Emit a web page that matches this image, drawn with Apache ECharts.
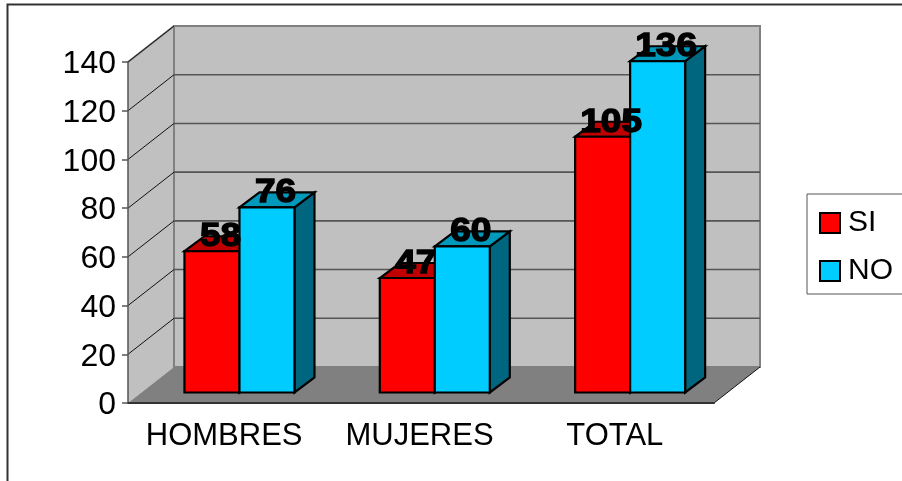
<!DOCTYPE html>
<html>
<head>
<meta charset="utf-8">
<style>html,body{margin:0;padding:0;background:#fff}#chart{width:902px;height:481px}</style>
<script src="https://cdn.jsdelivr.net/npm/echarts@6/dist/echarts.min.js"></script>
</head>
<body>
<div id="chart"></div>
<script>
const categories = ['HOMBRES', 'MUJERES', 'TOTAL'];
const siValues = [58, 47, 105];
const noValues = [76, 60, 136];
const tickValues = [0, 20, 40, 60, 80, 100, 120, 140];

const FONT = '"Liberation Sans", Arial, sans-serif';
// Pseudo-3D projection: offset from the front plane to the back wall, and the bar block depth
const WALL_DX = 46, WALL_DY = -36;
const BAR_SHIFT_X = 13.8, BAR_SHIFT_Y = -10.5;
const BAR_DX = 20, BAR_DY = -15;
const BAR_WIDTH = 55;

function polygon(points, fill, stroke, lineWidth) {
  return {
    type: 'polygon',
    shape: { points: points },
    style: { fill: fill, stroke: stroke || null, lineWidth: lineWidth || 0, lineJoin: 'miter' }
  };
}
function line(x1, y1, x2, y2, stroke, lineWidth) {
  return {
    type: 'line',
    shape: { x1: x1, y1: y1, x2: x2, y2: y2 },
    style: { stroke: stroke, lineWidth: lineWidth }
  };
}

// Side wall, back wall and floor, plus one gridline pair per tick value
function renderWalls(params, api) {
  const v = api.value(0);
  const cs = params.coordSys;
  const left = cs.x, right = cs.x + cs.width;
  const y = api.coord([0, v])[1];
  const children = [];
  if (params.dataIndex === 0) {
    const top = cs.y, bot = cs.y + cs.height;
    children.push(polygon([[left, top], [left + WALL_DX, top + WALL_DY], [left + WALL_DX, bot + WALL_DY], [left, bot]], '#c0c0c0'));
    children.push(polygon([[left + WALL_DX, top + WALL_DY], [right + WALL_DX, top + WALL_DY], [right + WALL_DX, bot + WALL_DY], [left + WALL_DX, bot + WALL_DY]], '#c0c0c0', '#808080', 2));
    children.push(polygon([[left, bot], [left + WALL_DX, bot + WALL_DY], [right + WALL_DX, bot + WALL_DY], [right, bot]], '#808080'));
    children.push(line(left, top, left + WALL_DX, top + WALL_DY, '#808080', 2));
    children.push(line(right, bot, right + WALL_DX, bot + WALL_DY, '#111', 1));
  } else {
    children.push(line(left, y, left + WALL_DX, y + WALL_DY, '#111', 1));
    if (v < 140) {
      children.push(line(left + WALL_DX, y + WALL_DY, right + WALL_DX, y + WALL_DY, '#555', 1.6));
    }
  }
  return { type: 'group', children: children };
}

function makeBarRenderer(seriesIndex, frontColor, topColor, sideColor) {
  return function (params, api) {
    const i = api.value(0), v = api.value(1);
    const top = api.coord([i, v]);
    const base = api.coord([i, 0]);
    const x0 = top[0] + BAR_SHIFT_X + (seriesIndex === 0 ? -BAR_WIDTH : 0);
    const x1 = x0 + BAR_WIDTH;
    const yTop = top[1] + BAR_SHIFT_Y;
    const yBot = base[1] + BAR_SHIFT_Y;
    return {
      type: 'group',
      children: [
        polygon([[x1, yTop], [x1 + BAR_DX, yTop + BAR_DY], [x1 + BAR_DX, yBot + BAR_DY], [x1, yBot]], sideColor, '#000', 2.2),
        polygon([[x0, yTop], [x0 + BAR_DX, yTop + BAR_DY], [x1 + BAR_DX, yTop + BAR_DY], [x1, yTop]], topColor, '#000', 2.2),
        polygon([[x0, yTop], [x1, yTop], [x1, yBot], [x0, yBot]], frontColor, '#000', 2.2)
      ]
    };
  };
}

function makeLabelRenderer(seriesIndex) {
  return function (params, api) {
    const i = api.value(0), v = api.value(1);
    const top = api.coord([i, v]);
    const x0 = top[0] + BAR_SHIFT_X + (seriesIndex === 0 ? -BAR_WIDTH : 0);
    return {
      type: 'text',
      x: x0 + BAR_WIDTH / 2 + 8.5,
      y: top[1] + BAR_SHIFT_Y - 14,
      scaleX: 1.12,
      style: {
        text: String(v),
        font: 'bold 33px ' + FONT,
        fill: '#000',
        stroke: '#000',
        lineWidth: 1.4,
        align: 'center',
        verticalAlign: 'middle'
      }
    };
  };
}

const toPairs = vals => vals.map((v, i) => [i, v]);
const chart = echarts.init(document.getElementById('chart'), null, { renderer: 'canvas' });
chart.setOption({
  animation: false,
  backgroundColor: '#fff',
  grid: { left: 128, right: 188, top: 62, bottom: 78, containLabel: false },
  xAxis: {
    type: 'category',
    data: categories,
    axisLine: { lineStyle: { color: '#333', width: 2 } },
    axisTick: { interval: 0, length: 6, lineStyle: { color: '#666', width: 1.5 } },
    axisLabel: { interval: 0, hideOverlap: false, color: '#000', fontFamily: FONT, fontSize: 31, margin: 18, padding: [0, 3, 0, 0] },
    z: 5
  },
  yAxis: {
    type: 'value',
    min: 0,
    max: 140,
    interval: 20,
    splitLine: { show: false },
    axisLine: { show: true, lineStyle: { color: '#555', width: 1.5 } },
    axisTick: { show: true, length: 6, lineStyle: { color: '#555', width: 1.5 } },
    axisLabel: { color: '#000', fontFamily: FONT, fontSize: 32, margin: 12, verticalAlign: 'top', lineHeight: 5 },
    z: 5
  },
  legend: {
    orient: 'vertical',
    left: 807,
    top: 194,
    padding: [14, 30, 8, 12],
    itemGap: 18,
    itemWidth: 20,
    itemHeight: 20,
    borderColor: '#555',
    borderWidth: 1,
    backgroundColor: '#fff',
    textStyle: { color: '#000', fontFamily: FONT, fontSize: 30, padding: [0, 0, 0, 3] },
    data: [
      { name: 'SI', icon: 'rect', itemStyle: { color: '#ff0000', borderColor: '#000', borderWidth: 2 } },
      { name: 'NO', icon: 'rect', itemStyle: { color: '#00ccff', borderColor: '#000', borderWidth: 2 } }
    ]
  },
  graphic: [{
    type: 'polyline',
    shape: { points: [[7.5, 481], [7.5, 4.5], [902, 4.5]] },
    style: { stroke: '#333', lineWidth: 2, fill: null },
    silent: true
  }],
  series: [
    { name: 'walls', type: 'custom', renderItem: renderWalls, data: tickValues.map(v => [v]), encode: { y: 0 }, z: 1, silent: true, clip: false },
    { name: 'SI', type: 'custom', renderItem: makeBarRenderer(0, '#ff0000', '#c00000', '#800000'), data: toPairs(siValues), encode: { x: 0, y: 1 }, itemStyle: { color: '#ff0000' }, z: 2, silent: true },
    { name: 'NO', type: 'custom', renderItem: makeBarRenderer(1, '#00ccff', '#0099bb', '#006680'), data: toPairs(noValues), encode: { x: 0, y: 1 }, itemStyle: { color: '#00ccff' }, z: 3, silent: true },
    { name: 'SI values', type: 'custom', renderItem: makeLabelRenderer(0), data: toPairs(siValues), encode: { x: 0, y: 1 }, z: 6, silent: true },
    { name: 'NO values', type: 'custom', renderItem: makeLabelRenderer(1), data: toPairs(noValues), encode: { x: 0, y: 1 }, z: 6, silent: true }
  ]
});
</script>
</body>
</html>
